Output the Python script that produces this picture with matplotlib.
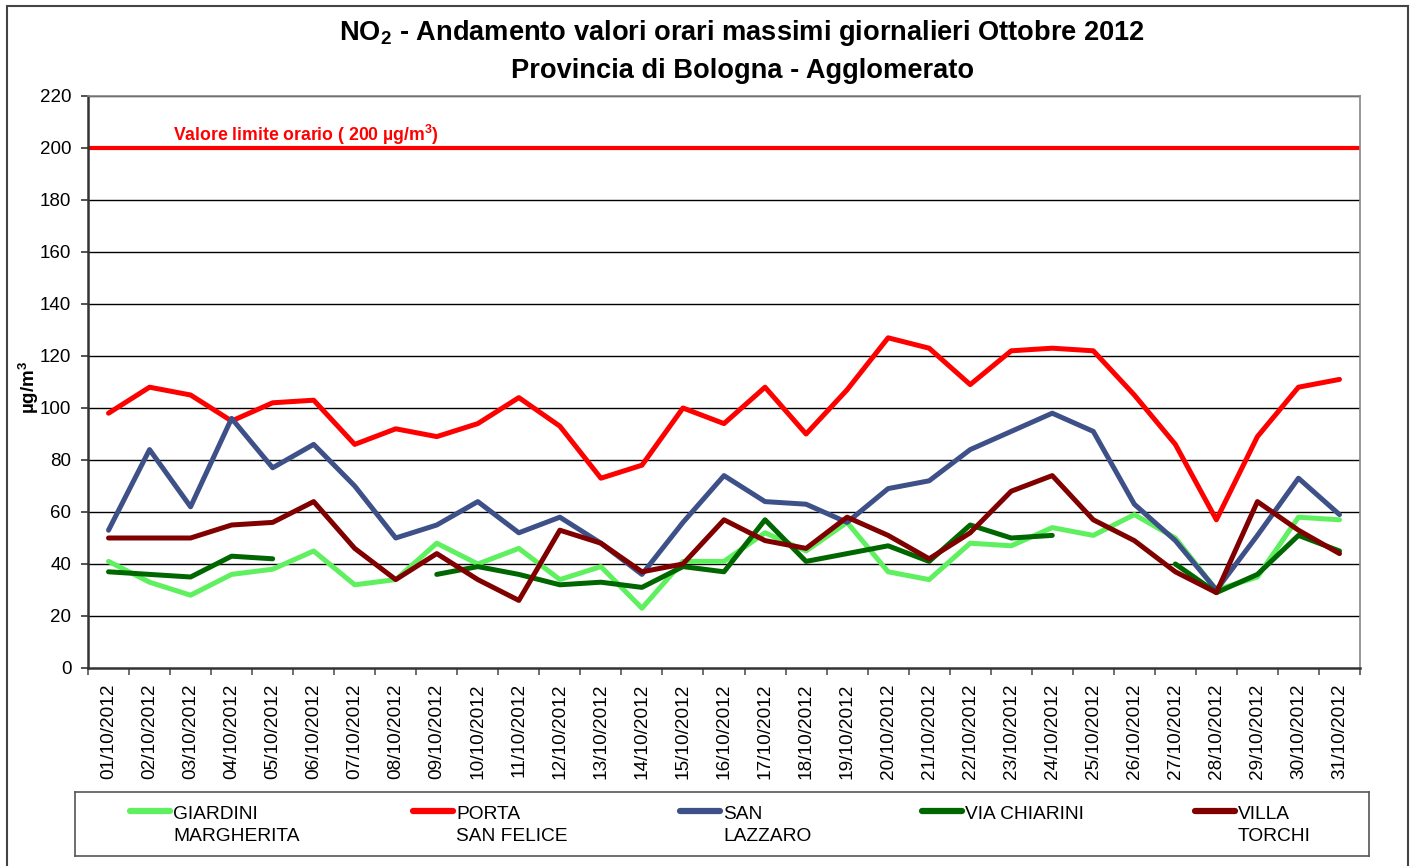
import numpy as np
import matplotlib
matplotlib.use("Agg")
import matplotlib.pyplot as plt
from matplotlib.patches import Rectangle

plt.rcParams['font.family'] = ['Liberation Sans', 'DejaVu Sans']
plt.rcParams['mathtext.fontset'] = 'custom'
plt.rcParams['mathtext.bf'] = 'Liberation Sans:bold'
plt.rcParams['mathtext.rm'] = 'Liberation Sans'
plt.rcParams['mathtext.default'] = 'bf'

nan = np.nan

days = ["%02d/10/2012" % d for d in range(1, 32)]

# daily max hourly NO2 values (ug/m3)
giardini = [41, 33, 28, 36, 38, 45, 32, 34, 48, 40, 46, 34, 39, 23, 41, 41,
            52, 45, 56, 37, 34, 48, 47, 54, 51, 59, 50, 30, 35, 58, 57]
porta = [98, 108, 105, 95, 102, 103, 86, 92, 89, 94, 104, 93, 73, 78, 100, 94,
         108, 90, 107, 127, 123, 109, 122, 123, 122, 105, 86, 57, 89, 108, 111]
san_lazzaro = [53, 84, 62, 96, 77, 86, 70, 50, 55, 64, 52, 58, 48, 36, 56, 74,
               64, 63, 56, 69, 72, 84, 91, 98, 91, 63, 49, 30, 51, 73, 59]
chiarini = [37, 36, 35, 43, 42, nan, nan, nan, 36, 39, 36, 32, 33, 31, 39, 37,
            57, 41, 44, 47, 41, 55, 50, 51, nan, nan, 40, 29, 36, 51, 45]
torchi = [50, 50, 50, 55, 56, 64, 46, 34, 44, 34, 26, 53, 48, 37, 40, 57,
          49, 46, 58, 51, 42, 52, 68, 74, 57, 49, 37, 29, 64, 53, 44]

series = [
    ("GIARDINI\nMARGHERITA", giardini, "#5EF05E"),
    ("PORTA\nSAN FELICE", porta, "#FF0000"),
    ("SAN\nLAZZARO", san_lazzaro, "#3E5088"),
    ("VIA CHIARINI", chiarini, "#006600"),
    ("VILLA\nTORCHI", torchi, "#800000"),
]
limite = 200

W, H = 1415, 866
fig = plt.figure(figsize=(W / 100, H / 100), dpi=100)
fig.add_artist(Rectangle((7 / W, -0.01), 1401 / W, 1 - 6 / H + 0.01,
                         transform=fig.transFigure, fill=False,
                         edgecolor='#444444', lw=1.5))

ax = fig.add_axes([88 / W, 1 - 668 / H, (1360 - 88) / W, (668 - 96) / H])
x = np.arange(1, 32)

for y in range(20, 221, 20):
    ax.axhline(y, color='black', lw=1, zorder=1)
ax.axhline(limite, color='#FF0000', lw=3, zorder=2)
ax.text(0.067, 202.8, "Valore limite orario ( 200 µg/m$^3$)", color='#FF0000',
        fontsize=12.7, fontweight='bold', transform=ax.get_yaxis_transform(),
        va='baseline')

for label, vals, col in series:
    ax.plot(x, vals, color=col, lw=3.6, solid_capstyle='round', zorder=3)

ax.set_xlim(0.5, 31.5)
ax.set_ylim(0, 220)
ax.set_yticks(range(0, 221, 20))
ax.tick_params(axis='y', labelsize=13.5, length=5, width=1.2, pad=7,
               color='#333333')
ax.set_xticks(x)
ax.set_xticklabels(days, rotation=90, fontsize=13.7)
ax.set_xticks(np.arange(0.5, 32, 1), minor=True)
ax.tick_params(axis='x', which='major', length=0, pad=11)
ax.tick_params(axis='x', which='minor', length=5, width=1.2, color='#555555')
for s in ['left', 'bottom']:
    ax.spines[s].set_color('#333333')
    ax.spines[s].set_linewidth(1.8)
for s in ['top', 'right']:
    ax.spines[s].set_color('#888888')
    ax.spines[s].set_linewidth(1.2)

ax.set_ylabel("µg/m$^3$", fontsize=13.5, fontweight='bold')
ax.yaxis.set_label_coords(-0.037, 0.49)

fig.text(742 / W, 1 - 33 / H,
         "NO$_2$ - Andamento valori orari massimi giornalieri Ottobre 2012",
         ha='center', va='center', fontsize=19.6, fontweight='bold')
fig.text(743 / W, 1 - 71 / H, "Provincia di Bologna - Agglomerato",
         ha='center', va='center', fontsize=19.6, fontweight='bold')

# legend box drawn by hand to keep the handle on the first text line
lax = fig.add_axes([75 / W, 1 - 856 / H, (1369 - 75) / W, 64 / H])
lax.set_xlim(75, 1369)
lax.set_ylim(856, 792)
lax.set_xticks([])
lax.set_yticks([])
for s in lax.spines.values():
    s.set_color('#555555')
    s.set_linewidth(1.2)
handle_x = [130, 413, 680, 922, 1195]
for (label, vals, col), hx in zip(series, handle_x):
    lax.plot([hx, hx + 40], [811, 811], color=col, lw=4.5,
             solid_capstyle='round')
    lax.text(hx + 43, 806, label, fontsize=13.8, va='top', ha='left',
             linespacing=1.35)

fig.savefig("out.png", dpi=100)
